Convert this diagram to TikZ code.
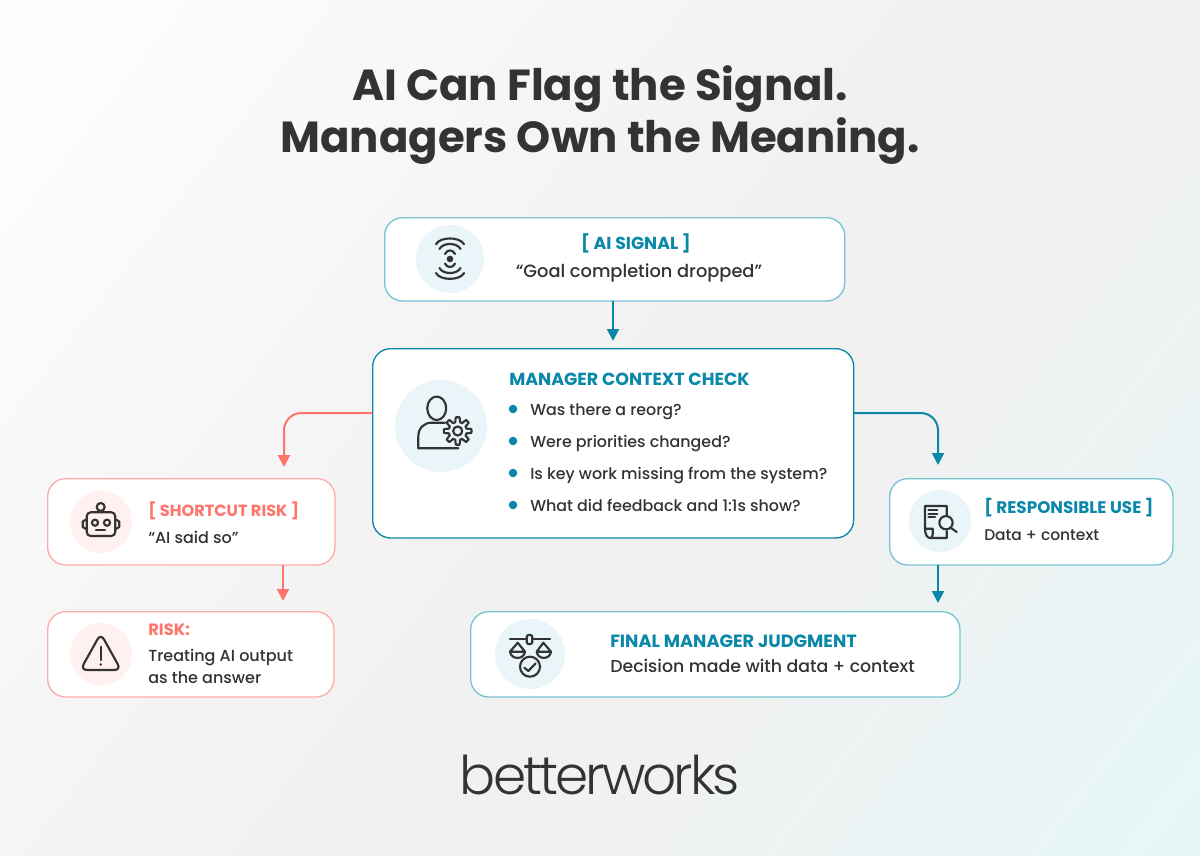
\documentclass[tikz,border=0pt]{standalone}
\usepackage{fontspec}
\setmainfont{Poppins}[UprightFont=* Medium,BoldFont=* Bold]
\newfontfamily\logofont{Poppins Light}[LetterSpace=-5.5]
\usetikzlibrary{arrows.meta}
\definecolor{teal}{HTML}{0A88A8}
\definecolor{teallt}{HTML}{78C3D3}
\definecolor{coral}{HTML}{FF756C}
\definecolor{corallt}{HTML}{FFABA5}
\definecolor{ink}{HTML}{333333}
\definecolor{halo}{HTML}{E9F5F8}
\definecolor{halor}{HTML}{FFF1F0}
\definecolor{bgstart}{HTML}{FDFDFD}
\definecolor{bgmid}{HTML}{F1F1F1}
\definecolor{bgend}{HTML}{E6F6F7}
\pgfdeclarehorizontalshading{bgshade}{100bp}{color(0bp)=(bgstart);color(18bp)=(bgstart);color(50bp)=(bgmid);color(62bp)=(bgmid);color(84bp)=(bgend);color(100bp)=(bgend)}
\tikzset{
  cardbox/.style={draw=#1,line width=1pt,fill=white,rounded corners=13.5pt,inner sep=0pt,anchor=north west},
  halocirc/.style={circle,fill=#1,draw=none,inner sep=0pt},
  flow/.style={line width=1.5pt,draw=#1,rounded corners=13pt,-{Triangle[length=9pt,width=9pt,fill=#1]}},
  icon/.style={draw=ink,line width=1.6pt,line cap=round,line join=round},
  head/.style={font=\fontsize{#1}{#1}\selectfont\bfseries,anchor=base west,inner sep=0pt},
  body/.style={font=\fontsize{#1}{#1}\selectfont,anchor=base west,inner sep=0pt,text=ink},
}
\begin{document}
\begin{tikzpicture}[x=0.75pt,y=-0.75pt]
\useasboundingbox (0,0) rectangle (1200,856);
\shade[shading=bgshade,shading angle=-38] (0,0) rectangle (1200,856);

\node[font=\fontsize{32.6}{33}\selectfont\bfseries,text=ink,anchor=base,inner sep=0pt] (t1) at (600,101) {AI Can Flag the Signal.};
\node[font=\fontsize{32.6}{33}\selectfont\bfseries,text=ink,anchor=base,inner sep=0pt] (t2) at (600,152) {Managers Own the Meaning.};

% cards
\node[cardbox=teallt,minimum width=345pt,minimum height=62.5pt] (sig) at (384,217) {};
\node[cardbox=teal,minimum width=360.75pt,minimum height=142pt] (mgr) at (372,348) {};
\node[cardbox=corallt,minimum width=215.5pt,minimum height=64.75pt] (short) at (47,478) {};
\node[cardbox=corallt,minimum width=214.75pt,minimum height=64pt] (risk) at (47,611) {};
\node[cardbox=teallt,minimum width=212.5pt,minimum height=64.75pt] (resp) at (889,478) {};
\node[cardbox=teallt,minimum width=367pt,minimum height=64pt] (final) at (470,611) {};

% halos
\node[halocirc=halo,minimum size=51pt] (hsig) at (450,259) {};
\node[halocirc=halo,minimum size=69pt] (hmgr) at (441,426) {};
\node[halocirc=halor,minimum size=46.5pt] (hshort) at (101,522) {};
\node[halocirc=halor,minimum size=46.5pt] (hrisk) at (101,654) {};
\node[halocirc=halo,minimum size=46.5pt] (hresp) at (940,521) {};
\node[halocirc=halo,minimum size=52.5pt] (hfinal) at (530,654) {};

% connectors
\coordinate (sigOut) at (613,301);
\coordinate (mgrIn) at (613,341);
\coordinate (mL) at (372,413);
\coordinate (shortIn) at (284,467);
\coordinate (mR) at (854,413);
\coordinate (respIn) at (938,465);
\coordinate (shortOut) at (283,565);
\coordinate (riskIn) at (283,601);
\coordinate (respOut) at (938,565);
\coordinate (finalIn) at (938,603);
\draw[flow=teal] (sigOut) -- (mgrIn);
\draw[flow=coral] (mL) -| (shortIn);
\draw[flow=teal] (mR) -| (respIn);
\draw[flow=coral] (shortOut) -- (riskIn);
\draw[flow=teal] (respOut) -- (finalIn);

% texts
\node[font=\fontsize{13}{13}\selectfont\bfseries,text=teal,anchor=base,inner sep=0pt] (a1) at (636,249) {[ AI SIGNAL ]};
\node[font=\fontsize{13.35}{14}\selectfont,text=ink,anchor=base,inner sep=0pt] (a2) at (639,277) {“Goal completion dropped”};

\node[head=13.1,text=teal] (m0) at (509,385) {MANAGER CONTEXT CHECK};
\foreach \y/\txt/\nm in {409/Was there a reorg?/m1,441/Were priorities changed?/m2,473/Is key work missing from the system?/m3,505/What did feedback and 1:1s show?/m4}{
  \fill[teal] (513,\y) circle (3.2pt);
  \node[body=11.9] (\nm) at (530,\y+6) {\txt};
}

\node[head=12.1,text=coral] (s1) at (148,516) {[ SHORTCUT RISK ]};
\node[body=12] (s2) at (148,543) {“AI said so”};
\node[head=12.3,text=coral] (r1) at (148,635) {RISK:};
\node[body=12] (r2) at (148,661) {Treating AI output};
\node[body=12] (r3) at (148,683) {as the answer};
\node[head=12.6,text=teal] (u1) at (984,513) {[ RESPONSIBLE USE ]};
\node[body=11.6] (u2) at (984,540) {Data + context};
\node[head=13.3,text=teal] (f1) at (610,647) {FINAL MANAGER JUDGMENT};
\node[body=13] (f2) at (610,672) {Decision made with data + context};

\node[font=\logofont\fontsize{40}{40}\selectfont,text=ink,anchor=base,inner sep=0pt] (logo) at (600,794) {betterworks};

% signal icon
\fill[ink] (450,259) circle (2.5pt);
\begin{scope}[icon]
\draw (436,244.3) .. controls (440,236.5) and (460,236.5) .. (464,244.3);
\draw (439.5,249) .. controls (443,242.3) and (457,242.3) .. (460.5,249);
\draw (445,254) .. controls (447,249.3) and (453,249.3) .. (455,254);
\draw (445,263.5) .. controls (447,268.2) and (453,268.2) .. (455,263.5);
\draw (439.5,268) .. controls (443,274.7) and (457,274.7) .. (460.5,268);
\draw (436,273) .. controls (440,280.8) and (460,280.8) .. (464,273);
\end{scope}

% person + gear icon
\begin{scope}[icon]
\draw (436.7,408.3) ellipse [x radius=7.1pt,y radius=8.8pt];
\draw (458.3,448.3) -- (418.3,448.3) -- (418.3,436.7) .. controls (418.3,428) and (424,422.7) .. (431.7,422.7) -- (445,422.7);
\draw[fill=halo] plot[domain=0:360,samples=145,variable=\a] ({457.7+(11.4+2.4*max(min(2*cos(8*\a),1),-1))*cos(\a)},{431+(11.4+2.4*max(min(2*cos(8*\a),1),-1))*sin(\a)});
\draw (457.7,431) circle (3.4pt);
\end{scope}

% robot icon
\begin{scope}[icon]
\draw[rounded corners=3pt] (86.7,512.3) rectangle (115.3,536);
\draw (86.7,519.3) -- (82.7,521.5) -- (82.7,527) -- (86.7,529.3);
\draw (115.3,519.3) -- (119.3,521.5) -- (119.3,527) -- (115.3,529.3);
\draw (100.7,507) circle (3pt);
\draw (95,522.7) circle (2.3pt);
\draw (107,522.7) circle (2.3pt);
\draw (96,530) -- (105,530);
\end{scope}

% warning icon
\begin{scope}[icon]
\draw[rounded corners=5pt] (100.7,633.5) -- (121,670) -- (80.4,670) -- cycle;
\draw (100.7,646.7) -- (100.7,660);
\fill[ink] (100.7,664.5) circle (1pt);
\end{scope}

% document icon
\begin{scope}[icon]
\draw (946.7,516) -- (946.7,506) -- (925,506) -- (925,528.7) -- (932.7,528.7) -- (932.7,534.5) .. controls (932.7,537) and (931.5,538) .. (930,538) -- (946.7,538) -- (946.7,531);
\draw (925,528.7) .. controls (925,534) and (927,538) .. (930,538);
\draw (928.5,510.3) -- (937.3,510.3);
\draw (928.5,513.7) -- (937.3,513.7);
\draw (928.5,517) -- (935,517);
\draw[fill=halo] (946,522.7) circle (5pt);
\draw (951,528) -- (956.7,532);
\end{scope}

% scales icon
\begin{scope}[icon]
\draw (510,639) -- (550,639);
\draw[fill=halo,rounded corners=1.5pt] (526.7,635) rectangle (532.3,644);
\draw (510,651.7) -- (517.7,642.7) -- (525,651.7) -- cycle;
\draw (510,651.7) .. controls (511,660) and (524,660) .. (525,651.7);
\draw (536.7,651.7) -- (543.3,642.7) -- (551,651.7) -- cycle;
\draw (536.7,651.7) .. controls (537.7,660) and (550,660) .. (551,651.7);
\draw (530,666.7) circle (7.5pt);
\draw (524.3,667.7) -- (528.3,671) -- (535.7,663.3);
\end{scope}
\end{tikzpicture}
\end{document}
